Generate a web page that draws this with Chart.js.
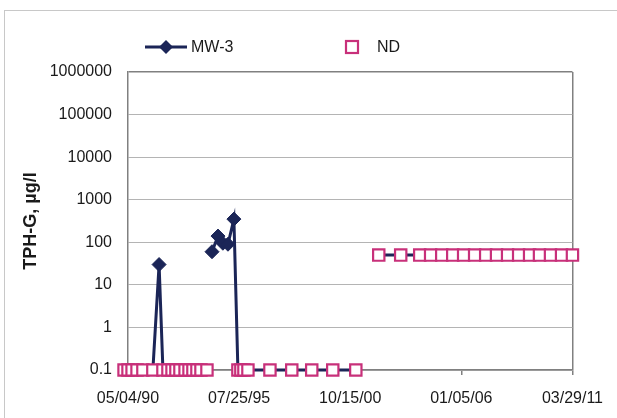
<!DOCTYPE html>
<html>
<head>
<meta charset="utf-8">
<script src="https://cdn.jsdelivr.net/npm/chart.js@4.4.0/dist/chart.umd.min.js"></script>
<style>
  body { margin: 0; background: #fff; }
  #wrap { position: relative; width: 617px; height: 418px; overflow: hidden; font-family: 'Liberation Sans', Arial, sans-serif; color: #1a1a1a; }
  #frame { position: absolute; left: 4px; top: 10px; width: 660px; height: 460px; border: 1px solid #c8c8c8; }
  #chart { position: absolute; left: 0; top: 0; }
  .leg { position: absolute; font-size: 16px; line-height: 16px; }
</style>
</head>
<body>
<div id="wrap">
  <div id="frame"></div>
  <canvas id="chart" width="617" height="418"></canvas>
  <!-- legend -->
  <svg class="leg" style="left:140px; top:37px;" width="50" height="20">
    <line x1="5" y1="10" x2="47" y2="10" stroke="#1b2557" stroke-width="3"/>
    <polygon points="26,3 33,10 26,17 19,10" fill="#1b2557"/>
  </svg>
  <div class="leg" style="left:191px; top:39px;">MW-3</div>
  <svg class="leg" style="left:342px; top:37px;" width="20" height="20">
    <rect x="4" y="4" width="12" height="12" fill="#fff" stroke="#c8307a" stroke-width="2.2"/>
  </svg>
  <div class="leg" style="left:377px; top:39px;">ND</div>
</div>
<script>
const navy = '#1b2557';
const pink = '#c8307a';

// sample dates, MW-3 results and the non-detect markers (plotted at 0.1 / 50)
const sampleDates = [
  '1990-02-25', '1990-05-04', '1990-07-13', '1990-10-06', '1991-01-15', '1991-07-05',
  '1991-10-20', '1991-12-25', '1992-03-20', '1992-05-29', '1992-08-04', '1992-10-12',
  '1993-01-08', '1993-03-17', '1993-05-23', '1993-07-31', '1993-10-08', '1994-01-19',
  '1994-04-16', '1994-07-28', '1994-10-20', '1995-01-15', '1995-04-27',
  '1995-07-05', '1995-08-25', '1995-10-16', '1995-12-24', '1997-01-05', '1998-01-15',
  '1998-12-24', '1999-12-20', '2001-01-19',
  '2002-02-17', '2003-03-01', '2004-01-22', '2004-07-27', '2005-02-03', '2005-08-11',
  '2006-02-14', '2006-08-22', '2007-02-28', '2007-09-02', '2008-03-10', '2008-09-16',
  '2009-03-23', '2009-09-09', '2010-03-17', '2010-09-23', '2011-03-29'
];
const mw3Values = [
  0.1, 0.1, 0.1, 0.1, 0.1, 0.1,
  30, 0.1, 0.1, 0.1, 0.1, 0.1,
  0.1, 0.1, 0.1, 0.1, 0.1, 0.1,
  60, 140, 95, 90, 350,
  0.1, 0.1, 0.1, 0.1, 0.1, 0.1,
  0.1, 0.1, 0.1,
  50, 50, 50, 50, 50, 50,
  50, 50, 50, 50, 50, 50,
  50, 50, 50, 50, 50
];
const ndValues = [
  0.1, 0.1, 0.1, 0.1, 0.1, 0.1,
  null, 0.1, 0.1, 0.1, 0.1, 0.1,
  0.1, 0.1, 0.1, 0.1, 0.1, 0.1,
  null, null, null, null, null,
  0.1, 0.1, 0.1, 0.1, 0.1, 0.1,
  0.1, 0.1, 0.1,
  50, 50, 50, 50, 50, 50,
  50, 50, 50, 50, 50, 50,
  50, 50, 50, 50, 50
];
const lineBreaksAfter = ['1994-01-19', '2001-01-19'];
const xTickDates = ['1990-05-04', '1995-07-25', '2000-10-15', '2006-01-05', '2011-03-29'];
const yTickValues = [0.1, 1, 10, 100, 1000, 10000, 100000, 1000000];

function toTime(s) {
  const [y, m, d] = s.split('-').map(Number);
  return Date.UTC(y, m - 1, d);
}
function pad(n) { return (n < 10 ? '0' : '') + n; }
function fmtDate(t) {
  const d = new Date(t);
  return pad(d.getUTCMonth() + 1) + '/' + pad(d.getUTCDate()) + '/' + pad(d.getUTCFullYear() % 100);
}

const breakIdx = lineBreaksAfter.map(s => sampleDates.indexOf(s));
const mw3Points = sampleDates.map((s, i) => ({ x: toTime(s), y: mw3Values[i] }));
const ndPoints = sampleDates.map((s, i) => ({ x: toTime(s), y: ndValues[i] }));

Chart.defaults.font.family = "'Liberation Sans', Arial, sans-serif";
Chart.defaults.color = '#1a1a1a';

new Chart(document.getElementById('chart'), {
  type: 'line',
  data: {
    datasets: [
      {
        label: 'ND',
        data: ndPoints,
        order: 0,
        showLine: false,
        pointStyle: 'rect',
        pointRadius: 8,
        pointBorderWidth: 2.2,
        pointBorderColor: pink,
        pointBackgroundColor: '#fff',
        clip: false
      },
      {
        label: 'MW-3',
        data: mw3Points,
        order: 1,
        borderColor: navy,
        borderWidth: 3,
        tension: 0,
        pointStyle: 'rectRot',
        pointRadius: ctx => ndValues[ctx.dataIndex] == null ? 7 : 0,
        pointBackgroundColor: navy,
        pointBorderColor: navy,
        pointBorderWidth: 1,
        segment: {
          borderColor: ctx => breakIdx.includes(ctx.p0DataIndex) ? 'rgba(0,0,0,0)' : navy
        },
        clip: false
      }
    ]
  },
  options: {
    responsive: false,
    animation: false,
    devicePixelRatio: 1,
    layout: { padding: { left: 0, top: 72, right: 44, bottom: 0 } },
    plugins: { legend: { display: false }, tooltip: { enabled: false } },
    scales: {
      x: {
        type: 'linear',
        min: toTime(xTickDates[0]),
        max: toTime(xTickDates[xTickDates.length - 1]),
        afterBuildTicks: scale => { scale.ticks = xTickDates.map(s => ({ value: toTime(s) })); },
        afterFit: scale => { scale.height = 48; },
        ticks: {
          callback: v => fmtDate(v),
          autoSkip: false,
          maxRotation: 0,
          padding: 14,
          font: { size: 16 }
        },
        grid: {
          color: ctx => ctx.index === xTickDates.length - 1 ? '#808080' : 'rgba(0,0,0,0)',
          lineWidth: 1.5,
          tickColor: '#808080',
          tickLength: 5
        },
        border: { display: true, color: '#808080', width: 1.5 }
      },
      y: {
        type: 'logarithmic',
        min: 0.1,
        max: 1000000,
        afterBuildTicks: scale => { scale.ticks = yTickValues.map(v => ({ value: v })); },
        afterFit: scale => { scale.width = 128; },
        ticks: {
          callback: v => String(v),
          padding: 16,
          font: { size: 16 }
        },
        grid: {
          color: ctx => ctx.index === yTickValues.length - 1 ? '#808080' : '#b4b4b4',
          lineWidth: ctx => ctx.index === yTickValues.length - 1 ? 1.5 : 1,
          drawTicks: false
        },
        border: { display: true, color: '#808080', width: 1.5 },
        title: {
          display: true,
          text: 'TPH-G, µg/l',
          font: { size: 18, weight: 'bold' },
          padding: { top: 20, bottom: 0 }
        }
      }
    }
  }
});
</script>
</body>
</html>
